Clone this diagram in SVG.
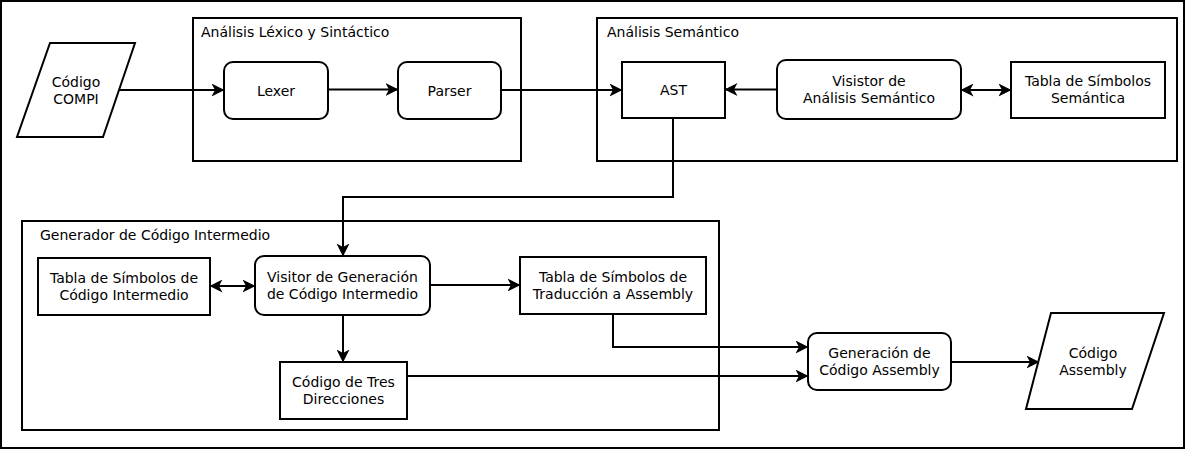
<svg xmlns="http://www.w3.org/2000/svg" width="1186" height="451" viewBox="0 0 1186 451">
<style>
.box{fill:#fff;stroke:#000;stroke-width:2}
.grp{fill:none;stroke:#000;stroke-width:2}
.t{font-family:"DejaVu Sans",Verdana,sans-serif;font-size:14px;fill:#000}
.c{text-anchor:middle}
.e{fill:none;stroke:#000;stroke-width:2}
</style>
<defs>
<marker id="a" markerUnits="userSpaceOnUse" viewBox="0 0 13 13" refX="12.5" refY="6.5" markerWidth="13" markerHeight="13" orient="auto-start-reverse">
<path d="M0,0 L13,6.5 L0,13 L3.5,6.5 Z" fill="#000"/>
</marker>
</defs>
<rect x="0" y="0" width="1186" height="451" fill="#fff"/>
<rect x="1" y="1" width="1183" height="447" class="grp"/>

<g id="grp-lexsint">
<rect x="193" y="18" width="328" height="143" class="grp"/>
<text x="201" y="37" class="t">Análisis Léxico y Sintáctico</text>
</g>
<g id="grp-sem">
<rect x="597" y="18" width="580" height="143" class="grp"/>
<text x="607" y="37" class="t">Análisis Semántico</text>
</g>
<g id="grp-gen">
<rect x="22" y="221" width="697" height="209" class="grp"/>
<text x="40" y="240" class="t">Generador de Código Intermedio</text>
</g>

<g id="connectors">
<path d="M119,90 L224,90" class="e" marker-end="url(#a)"/>
<path d="M328,89.5 L398,89.5" class="e" marker-end="url(#a)"/>
<path d="M501,90 L622,90" class="e" marker-end="url(#a)"/>
<path d="M777,89.5 L725,89.5" class="e" marker-end="url(#a)"/>
<path d="M961,90 L1011,90" class="e" marker-start="url(#a)" marker-end="url(#a)"/>
<path d="M673,118 L673,197 L343,197 L343,256" class="e" marker-end="url(#a)"/>
<path d="M210,286 L255,286" class="e" marker-start="url(#a)" marker-end="url(#a)"/>
<path d="M430,285 L520,285" class="e" marker-end="url(#a)"/>
<path d="M343,315 L343,362" class="e" marker-end="url(#a)"/>
<path d="M407,376 L808,376" class="e" marker-end="url(#a)"/>
<path d="M613,314 L613,347 L808,347" class="e" marker-end="url(#a)"/>
<path d="M951,362 L1039,362" class="e" marker-end="url(#a)"/>
</g>

<g id="codigo-compi">
<polygon points="50,43 135,43 103,137 17,137" class="box"/>
<text x="76" y="87" class="t c">Código</text>
<text x="76" y="104" class="t c">COMPI</text>
</g>
<g id="lexer">
<rect x="224" y="62" width="104" height="57" rx="9" class="box"/>
<text x="276" y="95.5" class="t c">Lexer</text>
</g>
<g id="parser">
<rect x="398" y="62" width="103" height="57" rx="9" class="box"/>
<text x="449.5" y="95.5" class="t c">Parser</text>
</g>
<g id="ast">
<rect x="622" y="62" width="103" height="56" class="box"/>
<text x="673.5" y="95" class="t c">AST</text>
</g>
<g id="visitor-sem">
<rect x="777" y="60" width="184" height="59" rx="9" class="box"/>
<text x="869" y="86" class="t c">Visistor de</text>
<text x="869" y="103" class="t c">Análisis Semántico</text>
</g>
<g id="tabla-sem">
<rect x="1011" y="62" width="154" height="56" class="box"/>
<text x="1088" y="86" class="t c">Tabla de Símbolos</text>
<text x="1088" y="103" class="t c">Semántica</text>
</g>
<g id="tabla-ci">
<rect x="38" y="258" width="172" height="57" class="box"/>
<text x="124" y="282.5" class="t c">Tabla de Símbolos de</text>
<text x="124" y="299.5" class="t c">Código Intermedio</text>
</g>
<g id="visitor-gen">
<rect x="255" y="256" width="175" height="59" rx="9" class="box"/>
<text x="342.5" y="281.5" class="t c">Visitor de Generación</text>
<text x="342.5" y="298.5" class="t c">de Código Intermedio</text>
</g>
<g id="tabla-trad">
<rect x="520" y="257" width="186" height="57" class="box"/>
<text x="613" y="281.5" class="t c">Tabla de Símbolos de</text>
<text x="613" y="298.5" class="t c">Traducción a Assembly</text>
</g>
<g id="tres-dir">
<rect x="280" y="362" width="127" height="57" class="box"/>
<text x="343.5" y="387" class="t c">Código de Tres</text>
<text x="343.5" y="404" class="t c">Direcciones</text>
</g>
<g id="gen-asm">
<rect x="808" y="333" width="143" height="57" rx="9" class="box"/>
<text x="879.5" y="358" class="t c">Generación de</text>
<text x="879.5" y="375" class="t c">Código Assembly</text>
</g>
<g id="codigo-asm">
<polygon points="1051,313 1164,313 1132,409 1026,409" class="box"/>
<text x="1093" y="358" class="t c">Código</text>
<text x="1093" y="375" class="t c">Assembly</text>
</g>
</svg>
